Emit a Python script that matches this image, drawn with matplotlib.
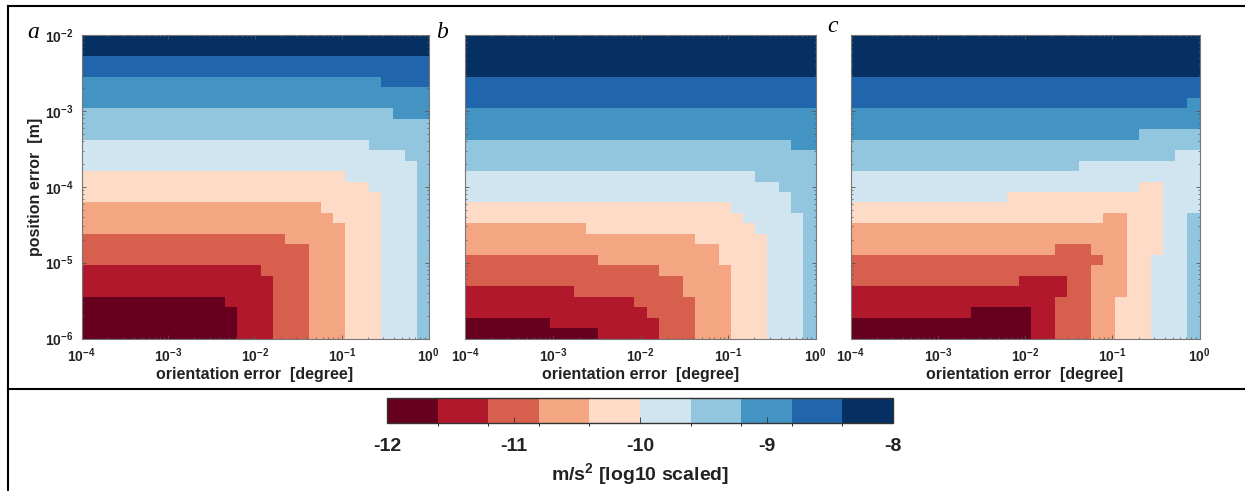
import numpy as np
import matplotlib
matplotlib.use("Agg")
import matplotlib.pyplot as plt
from matplotlib.colors import ListedColormap, BoundaryNorm
from matplotlib.lines import Line2D
from matplotlib.ticker import LogLocator, NullFormatter, FuncFormatter

plt.rcParams['font.family'] = ['Liberation Sans', 'DejaVu Sans']
plt.rcParams['mathtext.fontset'] = 'custom'
plt.rcParams['mathtext.rm'] = 'Liberation Sans:bold'
plt.rcParams['mathtext.it'] = 'Liberation Sans:bold'
plt.rcParams['mathtext.bf'] = 'Liberation Sans:bold'

# grille 30x30 points en log -> 29x29 cellules
x_decades = (-4, 0)
y_decades = (-6, -2)
n_pts = 30

# niveaux (log10 de l'erreur d'accélération)
levels = [-12, -11.6, -11.2, -10.8, -10.4, -10, -9.6, -9.2, -8.8, -8.4, -8]
colors = ['#67001f', '#b2182b', '#d6604d', '#f4a582', '#fddbc7',
          '#d1e5f0', '#92c5de', '#4393c3', '#2166ac', '#053061']
cbar_ticks = [-12, -11, -10, -9, -8]

# index de niveau par ligne (de haut en bas), codage (niveau, nb de cellules)
panel_a = [
    [(9, 29)], [(9, 29)], [(8, 29)], [(8, 29)],
    [(7, 25), (8, 4)], [(7, 29)], [(7, 29)],
    [(6, 26), (7, 3)], [(6, 29)], [(6, 29)],
    [(5, 24), (6, 5)], [(5, 27), (6, 2)], [(5, 28), (6, 1)],
    [(4, 22), (5, 6), (6, 1)], [(4, 24), (5, 4), (6, 1)], [(4, 25), (5, 3), (6, 1)],
    [(3, 20), (4, 5), (5, 3), (6, 1)], [(3, 21), (4, 4), (5, 3), (6, 1)],
    [(3, 22), (4, 3), (5, 3), (6, 1)],
    [(2, 17), (3, 5), (4, 3), (5, 3), (6, 1)], [(2, 19), (3, 3), (4, 3), (5, 3), (6, 1)],
    [(2, 19), (3, 3), (4, 3), (5, 3), (6, 1)],
    [(1, 15), (2, 4), (3, 3), (4, 3), (5, 3), (6, 1)],
    [(1, 16), (2, 3), (3, 3), (4, 3), (5, 3), (6, 1)],
    [(1, 16), (2, 3), (3, 3), (4, 3), (5, 3), (6, 1)],
    [(0, 12), (1, 4), (2, 3), (3, 3), (4, 3), (5, 3), (6, 1)],
    [(0, 13), (1, 3), (2, 3), (3, 3), (4, 3), (5, 3), (6, 1)],
    [(0, 13), (1, 3), (2, 3), (3, 3), (4, 3), (5, 3), (6, 1)],
    [(0, 13), (1, 3), (2, 3), (3, 3), (4, 3), (5, 3), (6, 1)],
]

panel_b = [
    [(9, 29)], [(9, 29)], [(9, 29)], [(9, 29)],
    [(8, 29)], [(8, 29)], [(8, 29)],
    [(7, 29)], [(7, 29)], [(7, 29)],
    [(6, 27), (7, 2)], [(6, 29)], [(6, 29)],
    [(5, 24), (6, 5)], [(5, 26), (6, 3)], [(5, 27), (6, 2)],
    [(4, 22), (5, 5), (6, 2)], [(4, 23), (5, 5), (6, 1)],
    [(3, 10), (4, 14), (5, 4), (6, 1)],
    [(3, 19), (4, 6), (5, 3), (6, 1)],
    [(3, 21), (4, 4), (5, 3), (6, 1)],
    [(2, 11), (3, 10), (4, 4), (5, 3), (6, 1)],
    [(2, 16), (3, 6), (4, 3), (5, 3), (6, 1)],
    [(2, 18), (3, 4), (4, 3), (5, 3), (6, 1)],
    [(1, 9), (2, 9), (3, 4), (4, 3), (5, 3), (6, 1)],
    [(1, 14), (2, 5), (3, 3), (4, 3), (5, 3), (6, 1)],
    [(1, 15), (2, 4), (3, 3), (4, 3), (5, 3), (6, 1)],
    [(0, 7), (1, 9), (2, 3), (3, 3), (4, 3), (5, 3), (6, 1)],
    [(0, 11), (1, 5), (2, 3), (3, 3), (4, 3), (5, 3), (6, 1)],
]

panel_c = [
    [(9, 29)], [(9, 29)], [(9, 29)], [(9, 29)],
    [(8, 29)], [(8, 29)], [(8, 28), (7, 1)],
    [(7, 29)], [(7, 29)], [(7, 24), (6, 5)],
    [(6, 29)], [(6, 27), (5, 2)], [(6, 19), (5, 10)],
    [(5, 29)], [(5, 24), (4, 2), (5, 3)], [(5, 13), (4, 13), (5, 3)],
    [(4, 26), (5, 3)],
    [(4, 21), (3, 2), (4, 3), (5, 2), (6, 1)],
    [(3, 23), (4, 3), (5, 2), (6, 1)],
    [(3, 23), (4, 3), (5, 2), (6, 1)],
    [(3, 17), (2, 3), (3, 3), (4, 3), (5, 2), (6, 1)],
    [(2, 21), (3, 2), (4, 2), (5, 3), (6, 1)],
    [(2, 20), (3, 3), (4, 2), (5, 3), (6, 1)],
    [(2, 14), (1, 4), (2, 2), (3, 3), (4, 2), (5, 3), (6, 1)],
    [(1, 18), (2, 2), (3, 3), (4, 2), (5, 3), (6, 1)],
    [(1, 17), (2, 3), (3, 2), (4, 3), (5, 3), (6, 1)],
    [(1, 10), (0, 5), (1, 2), (2, 3), (3, 2), (4, 3), (5, 3), (6, 1)],
    [(0, 15), (1, 2), (2, 3), (3, 2), (4, 3), (5, 3), (6, 1)],
    [(0, 15), (1, 2), (2, 3), (3, 2), (4, 3), (5, 3), (6, 1)],
]

panels = [panel_a, panel_b, panel_c]
letters = ['a', 'b', 'c']

W, H = 1245, 491


def px(x0, y0, x1, y1):
    # rectangle en pixels (origine en haut à gauche) -> fraction de figure
    return [x0 / W, 1 - y1 / H, (x1 - x0) / W, (y1 - y0) / H]


def decoder(rows):
    lignes = []
    for r in rows:
        niv = np.concatenate([np.full(n, k) for k, n in r])
        assert len(niv) == n_pts - 1, (r, len(niv))
        lignes.append(niv)
    grille = np.flipud(np.array(lignes))
    # centre de chaque intervalle de niveau
    return np.array(levels)[grille] + 0.2


def puissance(v, pos):
    e = int(round(np.log10(v)))
    return r'$\mathbf{10^{%d}}$' % e


cmap = ListedColormap(colors)
norm = BoundaryNorm(levels, cmap.N)
xe = np.logspace(*x_decades, n_pts)
ye = np.logspace(*y_decades, n_pts)

fig = plt.figure(figsize=(W / 100, H / 100), dpi=100)

axes_px = [(81.5, 35, 428.5, 338.5), (465.5, 35, 815.5, 338.5), (850.5, 35, 1199.5, 338.5)]
letter_px = [(33, 33), (442, 33), (833, 27)]

for i, rows in enumerate(panels):
    ax = fig.add_axes(px(*axes_px[i]))
    Z = decoder(rows)
    mesh = ax.pcolormesh(xe, ye, Z, cmap=cmap, norm=norm, shading='flat')
    ax.set_xscale('log')
    ax.set_yscale('log')
    ax.set_xlim(1e-4, 1)
    ax.set_ylim(1e-6, 1e-2)
    ax.xaxis.set_major_locator(LogLocator(base=10, numticks=10))
    ax.yaxis.set_major_locator(LogLocator(base=10, numticks=10))
    ax.xaxis.set_major_formatter(FuncFormatter(puissance))
    ax.tick_params(which='both', direction='in', top=True, right=True,
                   color='#555555', labelsize=10, labelcolor='#222222')
    ax.tick_params(which='major', length=3, width=0.6, pad=6)
    ax.tick_params(which='minor', length=1.5, width=0.5)
    for s in ax.spines.values():
        s.set_color('#777777')
        s.set_linewidth(0.8)
    ax.set_xlabel('orientation error  [degree]', fontsize=11.5, fontweight='bold',
                  color='#222222', labelpad=1)
    if i == 0:
        ax.yaxis.set_major_formatter(FuncFormatter(puissance))
        ax.set_ylabel('position error  [m]', fontsize=11.5, fontweight='bold',
                      color='#222222', labelpad=1)
    else:
        ax.yaxis.set_major_formatter(NullFormatter())
    lx, ly = letter_px[i]
    fig.text(lx / W, 1 - ly / H, letters[i], fontsize=17, style='italic',
             family='Liberation Serif', ha='center', va='center')

# barre de couleur
cax = fig.add_axes(px(387, 398, 893, 423))
cb = fig.colorbar(mesh, cax=cax, orientation='horizontal', ticks=cbar_ticks)
cb.outline.set_linewidth(1.0)
cb.outline.set_edgecolor('#333333')
cax.tick_params(direction='in', length=4, width=0.6, color='#333333', pad=11)
narrow = ['Liberation Sans Narrow', 'Liberation Sans']
cax.set_xticklabels([str(t) for t in cbar_ticks])
for t in cax.get_xticklabels():
    t.set_fontsize(14)
    t.set_fontweight('bold')
    t.set_family(narrow)
    t.set_color('#222222')
cax.set_xlabel('m/s$^2$ [log10 scaled]', fontsize=14, fontweight='bold',
               family=narrow, color='#222222', labelpad=4)

# cadre et séparateur
fig.add_artist(Line2D([8 / W, 8 / W], [0, 1 - 6 / H], color='black', lw=1.5,
                      transform=fig.transFigure))
fig.add_artist(Line2D([8 / W, 1], [1 - 6 / H, 1 - 6 / H], color='black', lw=1.5,
                      transform=fig.transFigure))
fig.add_artist(Line2D([8 / W, 1], [1 - 389 / H, 1 - 389 / H], color='black', lw=1.5,
                      transform=fig.transFigure))

fig.savefig('out.png', dpi=100)
